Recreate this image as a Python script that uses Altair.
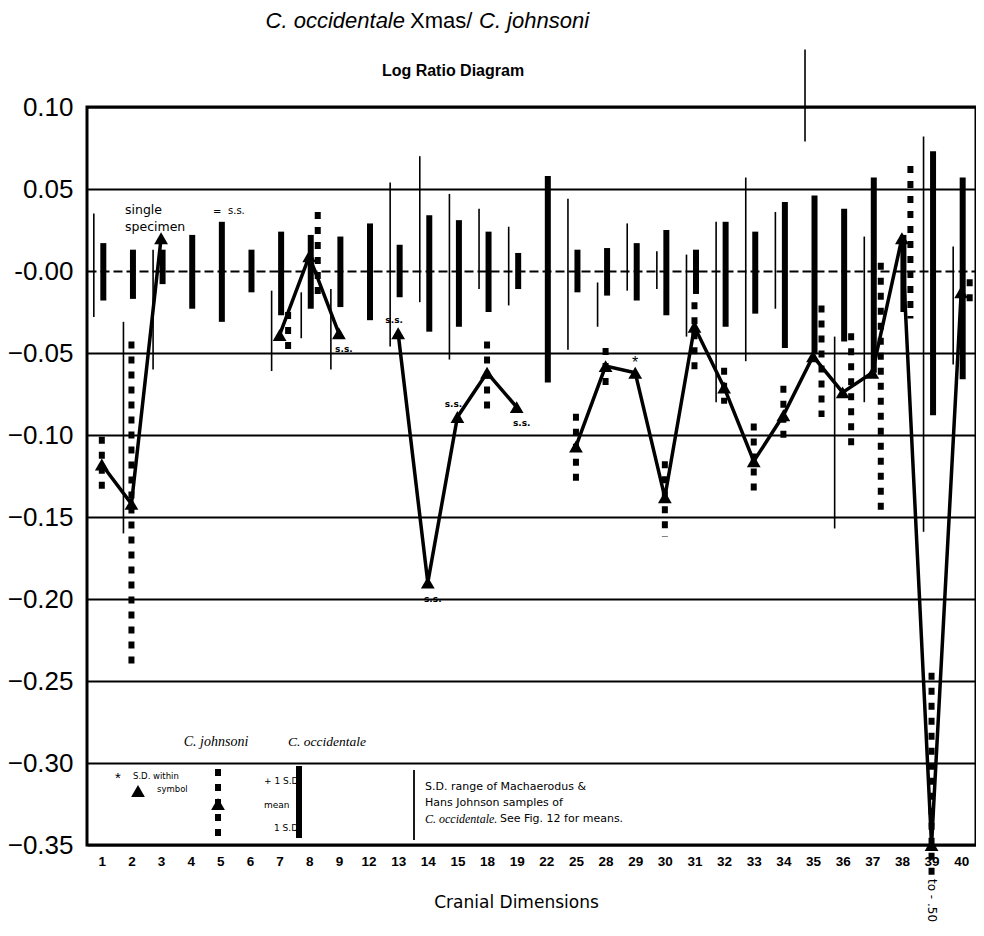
import altair as alt
import pandas as pd

# ---------------- data ----------------
cats = ["1", "2", "3", "4", "5", "6", "7", "8", "9", "12", "13", "14", "15", "18", "19",
        "22", "25", "28", "29", "30", "31", "32", "33", "34", "35", "36", "37", "38", "39", "40"]

# S.D. range of Machaerodus & Hans Johnson samples of C. occidentale (thin line)
mach_hi = [0.035, -0.031, 0.013, None, None, None, -0.012, -0.013, -0.011, None, 0.054, 0.070, 0.047, 0.038, 0.027,
           None, 0.044, -0.007, 0.029, 0.012, 0.010, 0.030, 0.057, 0.036, 0.135, -0.040, 0.021, None, 0.082, 0.015]
mach_lo = [-0.028, -0.160, -0.060, None, None, None, -0.061, -0.041, -0.060, None, -0.046, -0.019, -0.054, -0.011, -0.021,
           None, -0.048, -0.034, -0.012, -0.011, -0.040, -0.080, -0.055, -0.023, 0.079, -0.157, -0.080, None, -0.159, -0.057]

# C. occidentale +/- 1 S.D. (thick bar)
occ_hi = [0.017, 0.013, 0.013, 0.022, 0.030, 0.013, 0.024, 0.022, 0.021, 0.029, 0.016, 0.034, 0.031, 0.024, 0.011,
          0.058, 0.013, 0.014, 0.017, 0.025, 0.013, 0.030, 0.024, 0.042, 0.046, 0.038, 0.057, 0.022, 0.073, 0.057]
occ_lo = [-0.018, -0.017, -0.008, -0.023, -0.031, -0.013, -0.027, -0.023, -0.022, -0.030, -0.016, -0.037, -0.034, -0.025, -0.011,
          -0.068, -0.013, -0.015, -0.018, -0.027, -0.014, -0.034, -0.026, -0.047, -0.050, -0.043, -0.062, -0.025, -0.088, -0.066]

# C. johnsoni mean (triangle) and +/- 1 S.D. (dotted bar)
john_mean = [-0.118, -0.142, 0.020, None, None, None, -0.039, 0.009, -0.038, None, -0.038, -0.190, -0.089, -0.062, -0.083,
             None, -0.107, -0.058, -0.062, -0.138, -0.034, -0.071, -0.116, -0.088, -0.052, -0.074, -0.062, 0.020, -0.350, -0.013]
john_hi = [-0.101, -0.043, None, None, None, None, -0.025, 0.036, None, None, None, None, None, -0.043, None,
           None, -0.087, -0.047, None, -0.116, -0.019, -0.059, -0.093, -0.070, -0.021, -0.038, 0.005, 0.064, -0.245, -0.005]
john_lo = [-0.135, -0.244, None, None, None, None, -0.048, -0.017, None, None, None, None, None, -0.086, None,
           None, -0.130, -0.070, None, -0.162, -0.061, -0.081, -0.136, -0.102, -0.089, -0.109, -0.150, -0.029, -0.370, -0.019]

ss_below = ["9", "14", "19"]
ss_above = ["13", "15"]
star_cats = ["29"]
offscale = [{"cat": "39", "label": "to - .50"}]
y_ticks = [0.10, 0.05, 0.0, -0.05, -0.10, -0.15, -0.20, -0.25, -0.30, -0.35]

# ---------------- derived table ----------------
seg, s, prev = [], 0, False
for m in john_mean:
    if m is None:
        seg.append(None)
        prev = False
    else:
        if not prev:
            s += 1
        prev = True
        seg.append(s)

doff = []
for i in range(len(cats)):
    if john_hi[i] is not None and john_hi[i] > occ_lo[i] and john_lo[i] < occ_hi[i]:
        doff.append(1)
    else:
        doff.append(0)

df = pd.DataFrame({
    "cat": cats, "m_hi": mach_hi, "m_lo": mach_lo, "o_hi": occ_hi, "o_lo": occ_lo,
    "j_mean": john_mean, "j_hi": john_hi, "j_lo": john_lo, "seg": seg, "doff": doff,
})

W, H = 889, 738
FONT = "Liberation Sans"
GOTH = "DejaVu Sans"
SERIF = "Liberation Serif"

x = alt.X("cat:N", sort=cats, scale=alt.Scale(type="point", padding=0.5),
          axis=alt.Axis(title="Cranial Dimensions", labelAngle=0, labelFontWeight="bold",
                        labelFontSize=13.5, labelFont=FONT, labelColor="black", labelPadding=9,
                        ticks=False, domain=False, grid=False, titleFont=GOTH, titleFontSize=17,
                        titleFontWeight="normal", titleColor="black", titlePadding=27,
                        titleX=429, titleAlign="center"))
yscale = alt.Scale(domain=[-0.35, 0.10], nice=False, zero=False)
yaxis = alt.Axis(values=y_ticks, labelExpr="datum.value == 0 ? '-0.00' : format(datum.value, '.2f')",
                 labelFontSize=26, labelFont=FONT, labelColor="black", labelPadding=14,
                 ticks=False, domain=False, grid=True, gridColor="black", gridWidth=2, gridOpacity=1,
                 gridDash=alt.condition("datum.value === 0", alt.value([9, 4]), alt.value([])),
                 title=None)

base = alt.Chart(df)

thin = base.mark_rule(color="black", strokeWidth=1.6, xOffset=-8).encode(
    x=x, y=alt.Y("m_hi:Q", scale=yscale, axis=yaxis), y2="m_lo:Q")
thick = base.mark_rule(color="black", strokeWidth=6, strokeCap="butt", xOffset=1.5).encode(
    x=x, y="o_hi:Q", y2="o_lo:Q")
dot_c = base.transform_filter("datum.doff == 0").mark_rule(
    color="black", strokeWidth=6, strokeDash=[7, 8], strokeCap="butt").encode(
    x=x, y="j_hi:Q", y2="j_lo:Q")
dot_o = base.transform_filter("datum.doff == 1").mark_rule(
    color="black", strokeWidth=6, strokeDash=[7, 8], strokeCap="butt", xOffset=8.5).encode(
    x=x, y="j_hi:Q", y2="j_lo:Q")
line = base.mark_line(color="black", strokeWidth=3.5).encode(
    x=x, y="j_mean:Q", detail="seg:N")
tri = base.mark_point(shape="triangle-up", filled=True, size=190, color="black", opacity=1).encode(
    x=x, y="j_mean:Q")

ss_b = base.transform_filter(alt.FieldOneOfPredicate(field="cat", oneOf=ss_below)).mark_text(
    text="s.s.", dy=16, dx=5, fontSize=9, fontWeight="bold", font=GOTH, color="black").encode(
    x=x, y="j_mean:Q")
ss_a = base.transform_filter(alt.FieldOneOfPredicate(field="cat", oneOf=ss_above)).mark_text(
    text="s.s.", dy=-13, dx=-4, fontSize=9, fontWeight="bold", font=GOTH, color="black").encode(
    x=x, y="j_mean:Q")
star = base.transform_filter(alt.FieldOneOfPredicate(field="cat", oneOf=star_cats)).mark_text(
    text="*", dy=-10, fontSize=16, font=FONT, color="black").encode(x=x, y="j_mean:Q")
off_t = alt.Chart(pd.DataFrame(offscale)).mark_text(
    angle=90, align="left", baseline="middle", fontSize=12, font=GOTH, color="black").encode(
    x=x, y=alt.value(H + 34), text="label:N")

one = pd.DataFrame({"a": [0]})


def txt(t, px, py, size, align="left", font=GOTH, style="normal", weight="normal"):
    return alt.Chart(one).mark_text(text=t, align=align, baseline="middle", fontSize=size, font=font,
                                    fontStyle=style, fontWeight=weight, color="black").encode(
        x=alt.value(px), y=alt.value(py))


def vrule(px, py1, py2, width, dash=None):
    kw = dict(color="black", strokeWidth=width, strokeCap="butt")
    if dash:
        kw["strokeDash"] = dash
    return alt.Chart(one).mark_rule(**kw).encode(x=alt.value(px), y=alt.value(py1), y2=alt.value(py2))


ann = [
    # titles
    txt("C. occidentale", 318, -86, 22, align="right", font=FONT, style="italic"),
    txt("Xmas/", 323, -86, 22, font=FONT),
    txt("C. johnsoni", 392, -86, 22, font=FONT, style="italic"),
    txt("Log Ratio Diagram", 366, -36, 16, align="center", font=FONT, weight="bold"),
    # single specimen note
    txt("single", 38, 103, 12.5),
    txt("specimen", 38, 120, 12.5),
    txt("=", 126, 105, 10),
    txt("s.s.", 141, 104, 10),
    # legend
    txt("C. johnsoni", 129, 635, 14, align="center", font=SERIF, style="italic"),
    txt("C. occidentale", 240, 635, 13.5, align="center", font=SERIF, style="italic"),
    txt("*", 31, 671, 15, align="center", font=FONT),
    txt("S.D. within", 46, 669, 8.5),
    txt("symbol", 70, 682, 8.5),
    txt("+ 1 S.D.", 177, 674, 9),
    txt("mean", 177, 698, 9),
    txt("1 S.D.", 187, 721, 9),
    txt("S.D. range of Machaerodus &", 338, 680, 11),
    txt("Hans Johnson samples of", 338, 696, 11),
    txt("C. occidentale.", 338, 712, 12, font=SERIF, style="italic"),
    txt("See Fig. 12 for means.", 413, 712, 11),
    vrule(131, 662, 730, 6, dash=[7, 8]),
    vrule(212, 659, 731, 6),
    vrule(327, 663, 733, 1.8),
    alt.Chart(one).mark_point(shape="triangle-up", filled=True, size=190, color="black", opacity=1).encode(
        x=alt.value(51), y=alt.value(684)),
    alt.Chart(one).mark_point(shape="triangle-up", filled=True, size=190, color="black", opacity=1).encode(
        x=alt.value(131), y=alt.value(697)),
]

chart = alt.layer(thin, thick, dot_c, dot_o, line, tri, ss_b, ss_a, star, off_t, *ann).properties(
    width=W, height=H,
    autosize=alt.AutoSizeParams(type="none"),
    padding={"left": 79, "top": 99, "right": 0, "bottom": 83},
    background="white",
).configure_view(stroke="black", strokeWidth=3)

chart.save("out.html", embed_options={"renderer": "svg", "actions": False})
